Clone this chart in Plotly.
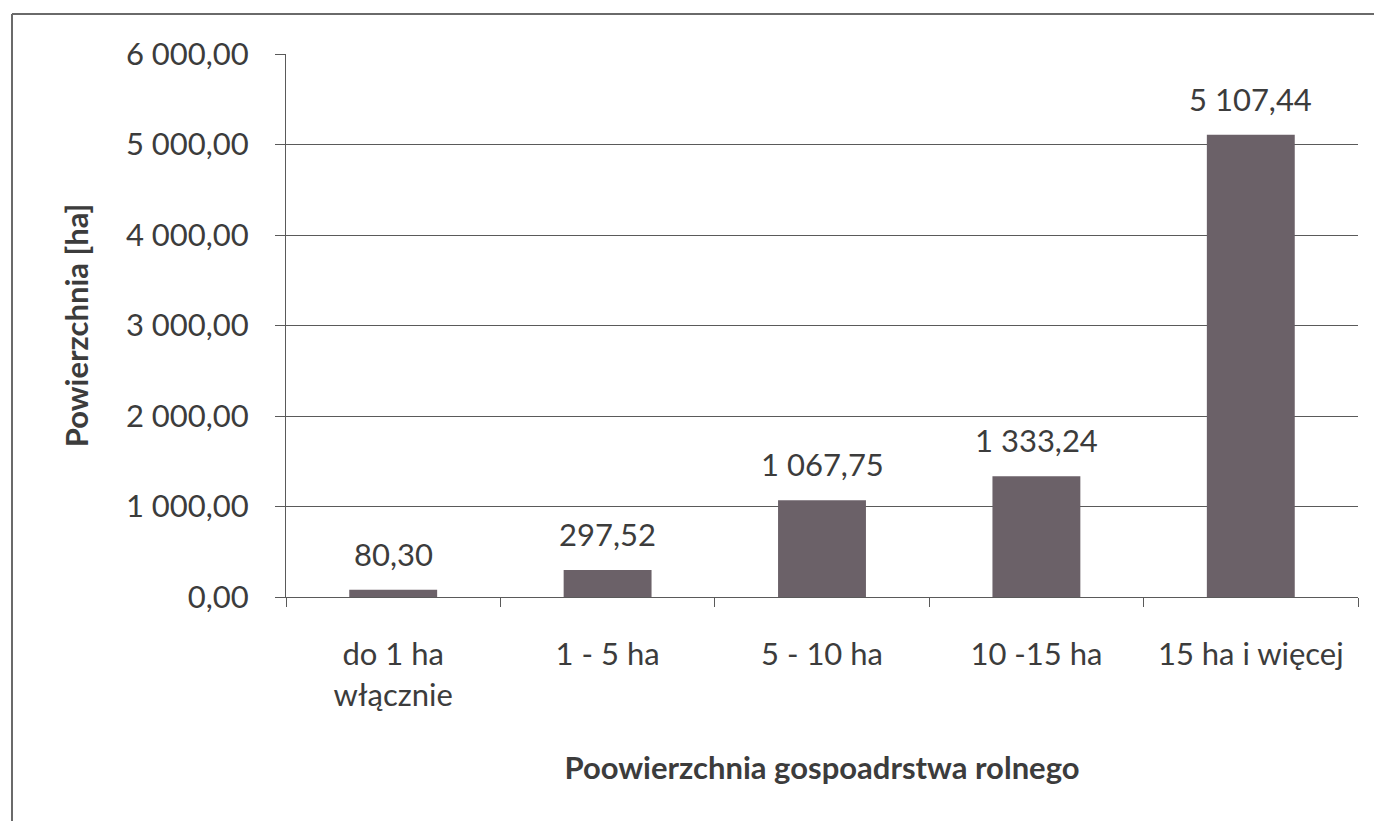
import plotly.graph_objects as go

categories = ["do 1 ha<br>włącznie", "1 - 5 ha", "5 - 10 ha", "10 -15 ha", "15 ha i więcej"]
values = [80.30, 297.52, 1067.75, 1333.24, 5107.44]
value_labels = ["80,30", "297,52", "1 067,75", "1 333,24", "5 107,44"]
y_ticks = [0, 1000, 2000, 3000, 4000, 5000, 6000]
y_tick_labels = ["0,00", "1 000,00", "2 000,00", "3 000,00", "4 000,00", "5 000,00", "6 000,00"]

FONT = "Lato, 'Open Sans', sans-serif"
TXT = "#3c3c3c"
FS = 31

fig = go.Figure()
fig.add_trace(go.Bar(
    x=categories, y=values,
    marker=dict(color="#6b6168", line=dict(width=0)),
    width=0.41,
    hoverinfo="x+y",
))

for c, v, t in zip(categories, values, value_labels):
    fig.add_annotation(x=c, y=v, text=t, showarrow=False, yanchor="bottom",
                       yshift=15, font=dict(family=FONT, size=FS, color=TXT))

fig.update_layout(
    width=1374, height=813,
    margin=dict(l=278, r=24, t=46, b=224),
    paper_bgcolor="white", plot_bgcolor="white",
    showlegend=False,
    font=dict(family=FONT, size=FS, color=TXT),
    bargap=0.59,
)
fig.update_yaxes(
    range=[0, 6000],
    tickvals=y_ticks, ticktext=y_tick_labels,
    showgrid=True, gridcolor="#5a5a5a", gridwidth=1,
    showline=True, linecolor="#5a5a5a", linewidth=1,
    ticks="outside", ticklen=10, tickcolor="#5a5a5a",
    ticklabelstandoff=20,
    tickfont=dict(family=FONT, size=FS, color=TXT),
    zeroline=False,
    title=dict(text="<b>Powierzchnia [ha]</b>", font=dict(family=FONT, size=FS, color=TXT), standoff=28),
)
fig.update_xaxes(
    showline=True, linecolor="#5a5a5a", linewidth=1,
    ticks="outside", tickson="boundaries", ticklen=9, tickcolor="#5a5a5a",
    ticklabelstandoff=30,
    tickfont=dict(family=FONT, size=FS, color=TXT),
    title=dict(text="<b>Poowierzchnia gospoadrstwa rolnego</b>", font=dict(family=FONT, size=FS, color=TXT), standoff=45),
)

# outer chart frame (left and top edges visible in the scan)
fig.add_shape(type="line", xref="paper", yref="paper", x0=-0.2556, x1=-0.2556, y0=1.0737, y1=-0.45,
              line=dict(color="#6a6a6a", width=2))
fig.add_shape(type="line", xref="paper", yref="paper", x0=-0.2556, x1=1.03, y0=1.0737, y1=1.0737,
              line=dict(color="#6a6a6a", width=2))

fig.write_html("out.html")
